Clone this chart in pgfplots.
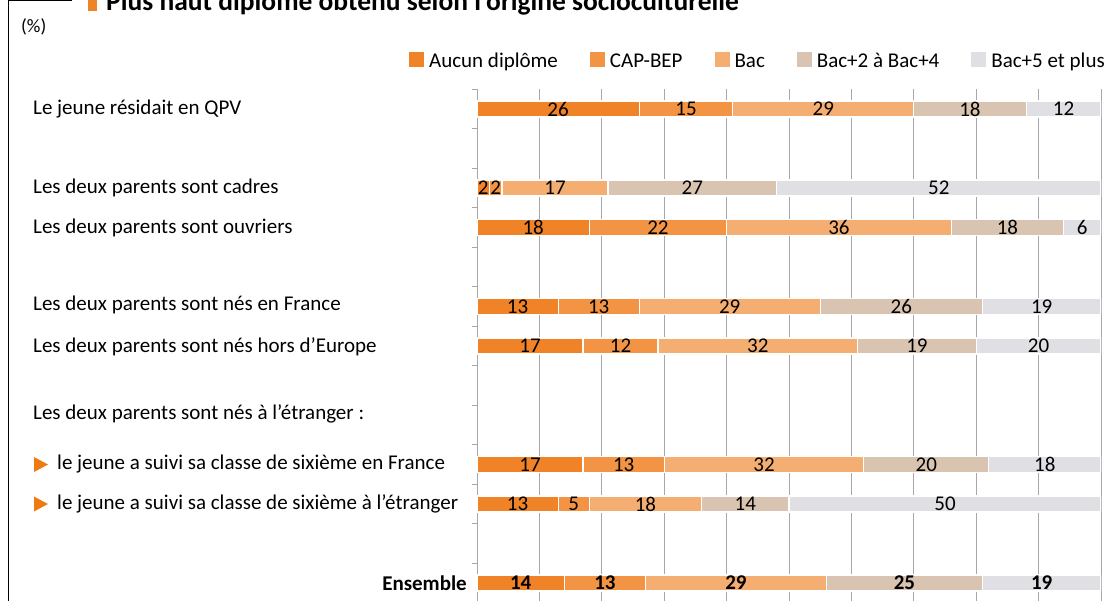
\documentclass[border=0pt]{standalone}
\usepackage{fontspec}
\setmainfont{Carlito}
\usepackage{pgfplots}
\pgfplotsset{compat=1.18}

\definecolor{aucun}{RGB}{240,130,40}
\definecolor{capbep}{RGB}{242,148,68}
\definecolor{bac}{RGB}{245,174,114}
\definecolor{bacdeux}{RGB}{216,196,176}
\definecolor{baccinq}{RGB}{224,223,228}
\definecolor{gridgray}{RGB}{166,166,172}
\definecolor{puce}{RGB}{238,122,20}

\newcommand{\lbl}{\fontsize{21bp}{25bp}\selectfont}

\begin{document}
\begin{tikzpicture}
\useasboundingbox (0,0) rectangle (1119bp,601bp);
\begin{axis}[
    scale only axis,
    width=624bp, height=513.5bp,
    at={(477bp,511.75bp)}, anchor=north west,
    xbar stacked,
    bar width=16bp,
    xmin=0, xmax=100,
    ymin=-0.5, ymax=12.5,
    axis lines*=left,
    axis line style={-},
    x axis line style={draw=none},
    y axis line style={gridgray, line width=0.8bp},
    xtick={0,10,...,100}, xticklabels={},
    xtick style={draw=none},
    xmajorgrids,
    grid style={gridgray, line width=0.8bp},
    ytick={-0.5,0.5,...,12.5}, yticklabels={},
    tick align=outside,
    major tick length=5bp,
    ytick style={gridgray, line width=0.8bp},
    /pgf/number format/assume math mode=true,
    every axis plot/.append style={draw=white, line width=1.2bp},
    visualization depends on=rawx \as \rawx,
    visualization depends on=rawy \as \rawy,
    nodes near coords={\ifdim\rawy pt<0.5pt\bfseries\fi\pgfmathprintnumber{\rawx}},
    every node near coord/.append style={anchor=center, text=black, font=\lbl,
        inner sep=0pt},
    legend columns=5,
    legend style={draw=none, fill=none, inner sep=0pt, font=\lbl,
        at={(axis description cs:1.0064,1.057)}, anchor=east,
        nodes={inner sep=0pt},
        /tikz/every even column/.append style={column sep=32bp},
        /tikz/every odd column/.append style={column sep=5bp}},
    legend image code/.code={\draw[#1, draw=none] (0bp,-7.5bp) rectangle (15bp,7.5bp);},
]
% rows: 12 QPV, 10 cadres, 9 ouvriers, 7 nes en France, 6 hors d'Europe,
% 3 sixieme en France, 2 sixieme a l'etranger, 0 Ensemble
\addplot[fill=aucun] coordinates {(26,12) (2,10) (18,9) (13,7) (17,6) (17,3) (13,2) (14,0)};
\addlegendentry{Aucun diplôme\strut}
\addplot[fill=capbep] coordinates {(15,12) (2,10) (22,9) (13,7) (12,6) (13,3) (5,2) (13,0)};
\addlegendentry{CAP-BEP\strut}
\addplot[fill=bac] coordinates {(29,12) (17,10) (36,9) (29,7) (32,6) (32,3) (18,2) (29,0)};
\addlegendentry{Bac\strut}
\addplot[fill=bacdeux] coordinates {(18,12) (27,10) (18,9) (26,7) (19,6) (20,3) (14,2) (25,0)};
\addlegendentry{Bac+2 à Bac+4\strut}
\addplot[fill=baccinq] coordinates {(12,12) (52,10) (6,9) (19,7) (20,6) (18,3) (50,2) (19,0)};
\addlegendentry{Bac+5 et plus\strut}
\end{axis}

% frame and title
\draw[black, line width=0.8bp] (72bp,600.5bp) -- (8bp,600.5bp) -- (8bp,0bp);
\fill[aucun] (87.5bp,590bp) rectangle (97bp,603bp);
\node[anchor=base west, inner sep=0pt, font=\fontsize{27.5bp}{31bp}\selectfont\bfseries]
    at (106bp,590bp) {Plus haut diplôme obtenu selon l’origine socioculturelle};
\node[anchor=west, inner sep=0pt, font=\fontsize{19bp}{22bp}\selectfont] at (21bp,574bp) {(\%)};

% category labels
\begin{scope}[every node/.style={anchor=west, inner sep=0pt, font=\lbl}]
\node at (33bp,492bp) {Le jeune résidait en QPV};
\node at (33bp,413bp) {Les deux parents sont cadres};
\node at (33bp,373.5bp) {Les deux parents sont ouvriers};
\node at (33bp,296bp) {Les deux parents sont nés en France};
\node at (33bp,254bp) {Les deux parents sont nés hors d’Europe};
\node at (33bp,187bp) {Les deux parents sont nés à l’étranger :};
\node at (57bp,136.5bp) {le jeune a suivi sa classe de sixième en France};
\node at (57bp,97bp) {le jeune a suivi sa classe de sixième à l’étranger};
\node[anchor=east, font=\lbl\bfseries] at (467bp,18bp) {Ensemble};
\end{scope}
\fill[puce] (34bp,129bp) -- (48bp,136.5bp) -- (34bp,144bp) -- cycle;
\fill[puce] (34bp,89.5bp) -- (48bp,97bp) -- (34bp,104.5bp) -- cycle;
\end{tikzpicture}
\end{document}
